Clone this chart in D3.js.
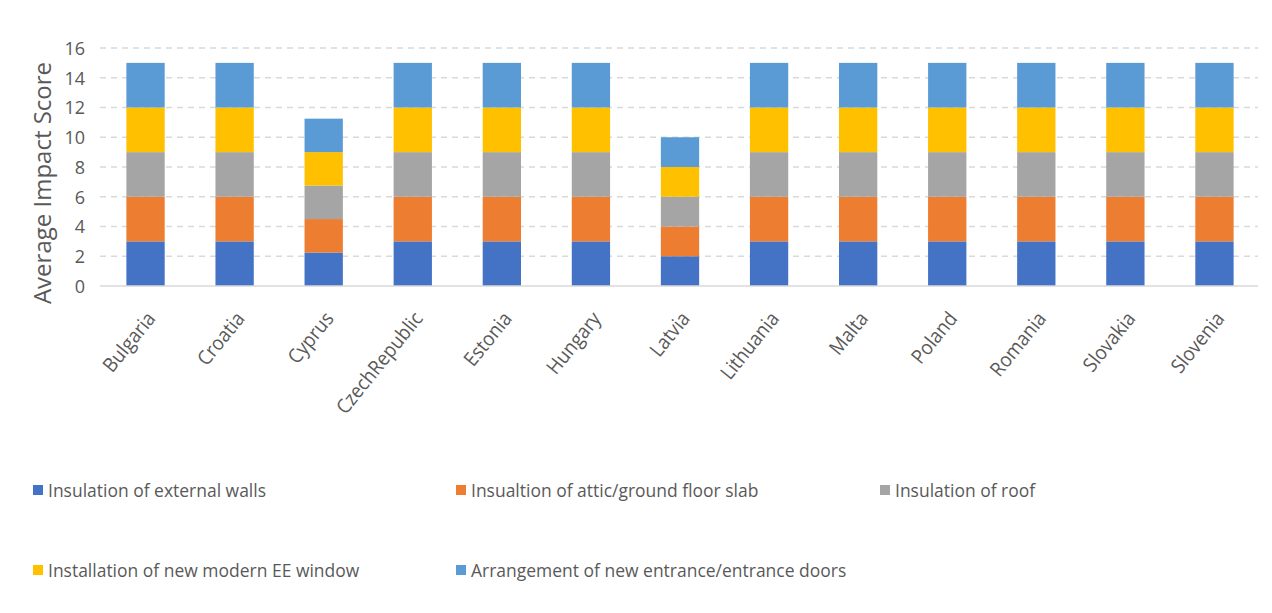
<!DOCTYPE html>
<html>
<head>
<meta charset="utf-8">
<script src="https://cdn.jsdelivr.net/npm/d3@7"></script>
<style>
  html, body { margin: 0; padding: 0; background: #fff; }
  svg text { font-family: "Open Sans", "DejaVu Sans", sans-serif; fill: #595959; }
</style>
</head>
<body>
<svg id="chart" width="1272" height="613"></svg>
<script>
// Countries along the x axis
const countries = ["Bulgaria", "Croatia", "Cyprus", "CzechRepublic", "Estonia", "Hungary",
  "Latvia", "Lithuania", "Malta", "Poland", "Romania", "Slovakia", "Slovenia"];

// Stacked series, bottom to top
const seriesNames = [
  "Insulation of external walls",
  "Insualtion of attic/ground floor slab",
  "Insulation of roof",
  "Installation of new modern EE window",
  "Arrangement of new entrance/entrance doors"
];

const externalWalls = [3, 3, 2.25, 3, 3, 3, 2, 3, 3, 3, 3, 3, 3];
const atticSlab     = [3, 3, 2.25, 3, 3, 3, 2, 3, 3, 3, 3, 3, 3];
const roof          = [3, 3, 2.25, 3, 3, 3, 2, 3, 3, 3, 3, 3, 3];
const eeWindow      = [3, 3, 2.25, 3, 3, 3, 2, 3, 3, 3, 3, 3, 3];
const entranceDoors = [3, 3, 2.25, 3, 3, 3, 2, 3, 3, 3, 3, 3, 3];

const yTicks = [0, 2, 4, 6, 8, 10, 12, 14, 16];
const colors = ["#4472C4", "#ED7D31", "#A5A5A5", "#FFC000", "#5B9BD5"];

const seriesValues = [externalWalls, atticSlab, roof, eeWindow, entranceDoors];
const rows = countries.map((c, i) => {
  const r = { country: c };
  seriesNames.forEach((s, k) => r[s] = seriesValues[k][i]);
  return r;
});

const svg = d3.select("#chart");
const plot = { left: 100, right: 1258, top: 48, bottom: 286 };

const x = d3.scaleBand().domain(countries).range([plot.left, plot.right]).paddingInner(0.57).paddingOuter(0.285);
const y = d3.scaleLinear().domain([0, 16]).range([plot.bottom, plot.top]);

// Horizontal dashed gridlines
svg.append("g").selectAll("line").data(yTicks.filter(t => t > 0)).join("line")
  .attr("x1", plot.left).attr("x2", plot.right)
  .attr("y1", d => y(d)).attr("y2", d => y(d))
  .attr("stroke", "#d9d9d9").attr("stroke-width", 1.5).attr("stroke-dasharray", "6,5");

// Stacked bars
const stacked = d3.stack().keys(seriesNames)(rows);
svg.append("g").selectAll("g").data(stacked).join("g")
  .attr("fill", (d, i) => colors[i])
  .selectAll("rect").data(d => d).join("rect")
  .attr("x", d => x(d.data.country) + 1)
  .attr("width", x.bandwidth())
  .attr("y", d => y(d[1]))
  .attr("height", d => y(d[0]) - y(d[1]));

// Baseline
svg.append("line")
  .attr("x1", plot.left).attr("x2", plot.right)
  .attr("y1", y(0)).attr("y2", y(0))
  .attr("stroke", "#d9d9d9").attr("stroke-width", 1.5);

// Y axis labels
const yAxis = svg.append("g").attr("transform", `translate(${plot.left - 15},0)`)
  .call(d3.axisLeft(y).tickValues(yTicks).tickSize(0).tickPadding(0));
yAxis.select(".domain").remove();
yAxis.selectAll("text").attr("font-size", 18).attr("dy", "0.35em")
  .style("font-family", "'Open Sans', sans-serif").style("fill", "#595959");

// Y axis title
svg.append("text")
  .attr("transform", "translate(51,183) rotate(-90)")
  .attr("text-anchor", "middle")
  .attr("font-size", 24)
  .text("Average Impact Score");

// X axis labels, rotated
const xAxis = svg.append("g").attr("transform", `translate(0,${plot.bottom})`)
  .call(d3.axisBottom(x).tickSize(0).tickPadding(0));
xAxis.select(".domain").remove();
xAxis.selectAll("text")
  .attr("font-size", 20)
  .attr("text-anchor", "end")
  .attr("dy", 0)
  .attr("transform", "translate(12,33) rotate(-51) scale(0.92,1)")
  .style("font-family", "'Open Sans', sans-serif").style("fill", "#595959");

// Legend
const legendPos = [[33, 490], [456, 490], [880, 490], [33, 570], [456, 570]];
const legend = svg.append("g").selectAll("g").data(seriesNames).join("g")
  .attr("transform", (d, i) => `translate(${legendPos[i][0]},${legendPos[i][1]})`);
legend.append("rect").attr("x", 0).attr("y", -5).attr("width", 10).attr("height", 10)
  .attr("fill", (d, i) => colors[i]);
legend.append("text").attr("transform", "translate(15,0) scale(0.92,1)")
  .attr("dy", "0.35em").attr("font-size", 19).text(d => d);
</script>
</body>
</html>
